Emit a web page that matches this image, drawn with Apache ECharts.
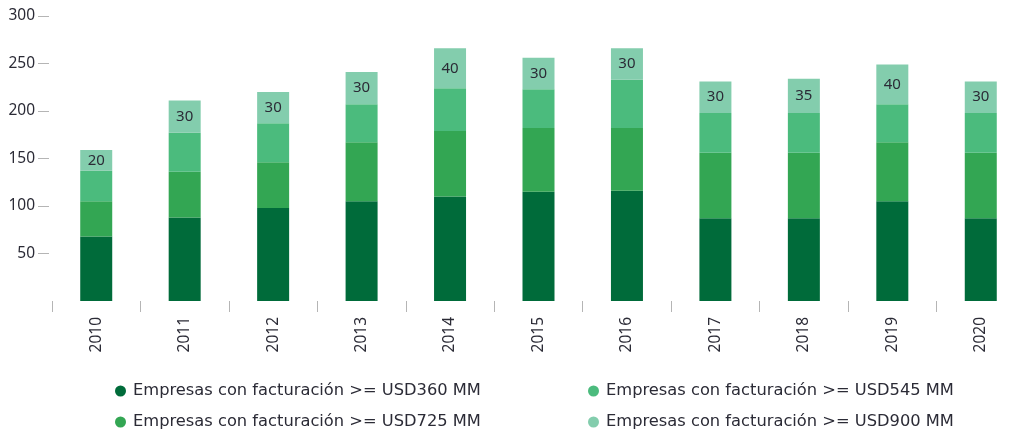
<!DOCTYPE html>
<html>
<head>
<meta charset="utf-8">
<script src="https://cdn.jsdelivr.net/npm/echarts@6/dist/echarts.min.js"></script>
<style>
  html, body { margin: 0; padding: 0; background: #fff; }
  #chart { width: 1025px; height: 431px; }
</style>
</head>
<body>
<div id="chart"></div>
<script>
// datos
const years = ['2010', '2011', '2012', '2013', '2014', '2015', '2016', '2017', '2018', '2019', '2020'];
const usd360 = [68, 88, 98, 105, 110, 115, 116, 87, 87, 105, 87];
const usd725 = [37, 48, 48, 62, 69, 67, 66, 69, 69, 62, 69];
const usd545 = [32, 41, 41, 40, 45, 41, 51, 42, 42, 40, 42];
const usd900 = [22, 34, 33, 34, 42, 33, 33, 33, 36, 42, 33];
const topLabels = ['20', '30', '30', '30', '40', '30', '30', '30', '35', '40', '30'];
const yTicks = [50, 100, 150, 200, 250, 300];

const names = {
  usd360: 'Empresas con facturación >= USD360 MM',
  usd545: 'Empresas con facturación >= USD545 MM',
  usd725: 'Empresas con facturación >= USD725 MM',
  usd900: 'Empresas con facturación >= USD900 MM'
};
const colors = {
  usd360: '#006b3a',
  usd725: '#33a653',
  usd545: '#4bbb7d',
  usd900: '#83cdad'
};
const FONT = 'Noto Sans';
const TEXT_COLOR = '#2b2b36';

const chart = echarts.init(document.getElementById('chart'));

function barSeries(key, data, withLabel) {
  const s = {
    name: names[key],
    type: 'bar',
    stack: 'total',
    barWidth: 32,
    data: data,
    itemStyle: { color: colors[key] },
    emphasis: { disabled: true }
  };
  if (withLabel) {
    s.label = {
      show: true,
      position: 'inside',
      color: TEXT_COLOR,
      fontFamily: FONT,
      fontSize: 15,
      formatter: p => topLabels[p.dataIndex]
    };
  }
  return s;
}

function legendColumn(left, data) {
  return {
    orient: 'vertical', left: left, top: 381, height: 80, padding: 0,
    icon: 'circle', itemWidth: 11, itemHeight: 11, itemGap: 11,
    textStyle: { color: TEXT_COLOR, fontFamily: 'DejaVu Sans', fontSize: 16.3, lineHeight: 20, padding: [0, 0, 0, 2] },
    data: data
  };
}

chart.setOption({
  animation: false,
  grid: { left: 52, right: -1, top: 16, bottom: 130 },
  legend: [
    legendColumn(115, [names.usd360, names.usd725]),
    legendColumn(588, [names.usd545, names.usd900])
  ],
  xAxis: {
    type: 'category',
    data: years,
    offset: 14,
    axisLine: { show: false },
    axisTick: { show: true, length: 11, lineStyle: { color: '#b5b5b5' } },
    axisLabel: { rotate: 90, margin: 2, color: TEXT_COLOR, fontFamily: FONT, fontSize: 15.5 }
  },
  yAxis: {
    type: 'value',
    min: 0,
    max: 300,
    interval: 50,
    offset: 3,
    splitLine: { show: false },
    axisLine: { show: false },
    axisTick: { show: true, length: 11, customValues: yTicks, lineStyle: { color: '#b5b5b5' } },
    axisLabel: { margin: 14, color: TEXT_COLOR, fontFamily: FONT, fontSize: 15.5, customValues: yTicks }
  },
  series: [
    barSeries('usd360', usd360, false),
    barSeries('usd725', usd725, false),
    barSeries('usd545', usd545, false),
    barSeries('usd900', usd900, true)
  ]
});
</script>
</body>
</html>
